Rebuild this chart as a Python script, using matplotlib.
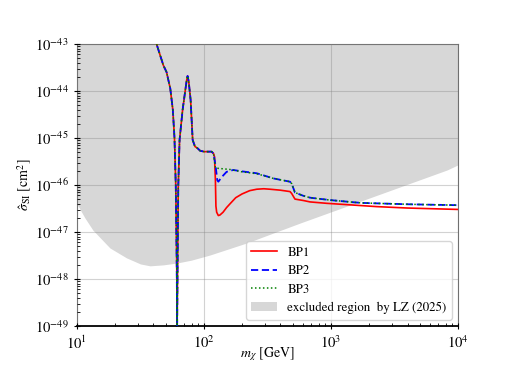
import numpy as np
import matplotlib
matplotlib.use("Agg")
import matplotlib.pyplot as plt
from matplotlib.patches import Patch
from matplotlib.ticker import LogLocator

plt.rcParams['font.family'] = ['serif']
plt.rcParams['font.serif'] = ['STIXGeneral', 'Liberation Serif', 'DejaVu Serif']
plt.rcParams['mathtext.fontset'] = 'stix'

# ---- data (log10 of mass [GeV], log10 of sigma [cm^2]) ----
lz_logm = [1.0, 1.063, 1.126, 1.26, 1.39, 1.50, 1.575, 1.68, 1.787, 1.90, 2.047,
           2.34, 2.756, 3.913, 4.0]
lz_logs = [-46.40, -46.70, -46.96, -47.34, -47.55, -47.68, -47.72, -47.70, -47.66,
           -47.60, -47.49, -47.23, -46.81, -45.68, -45.57]

common_logm = [1.58, 1.627, 1.68, 1.706, 1.735, 1.755, 1.768, 1.778, 1.785, 1.789,
               1.793, 1.798, 1.808, 1.832, 1.864, 1.871, 1.880, 1.895, 1.911, 1.929,
               1.95, 1.969, 2.0, 2.06, 2.075]
common_logs = [-42.6, -43.0, -43.45, -43.6, -43.95, -44.4, -45.0, -46.0, -47.5, -49.0,
               -47.5, -46.0, -45.04, -44.40, -43.77, -43.68, -43.80, -44.19, -45.04, -45.18,
               -45.22, -45.27, -45.29, -45.29, -45.33]

bp1_logm = [2.083, 2.090, 2.094, 2.100, 2.113, 2.125, 2.15, 2.178, 2.205, 2.25, 2.30,
            2.36, 2.415, 2.47, 2.52, 2.60, 2.677, 2.69, 2.716, 2.782, 2.835, 2.966,
            3.36, 3.6, 4.0]
bp1_logs = [-45.40, -45.9, -46.45, -46.58, -46.65, -46.64, -46.58, -46.48, -46.40, -46.27,
            -46.19, -46.12, -46.09, -46.08, -46.09, -46.11, -46.14, -46.18, -46.30, -46.33,
            -46.36, -46.39, -46.46, -46.49, -46.52]

bp2_logm = [2.083, 2.094, 2.105, 2.113, 2.14, 2.178, 2.23, 2.30, 2.415, 2.546, 2.677,
            2.69, 2.716, 2.782, 2.835, 2.99, 3.228, 3.6, 4.0]
bp2_logs = [-45.45, -45.65, -45.90, -45.93, -45.83, -45.72, -45.68, -45.71, -45.75, -45.86,
            -45.93, -45.97, -46.16, -46.23, -46.27, -46.32, -46.38, -46.41, -46.43]

bp3_logm = [2.083, 2.09, 2.13, 2.205, 2.30, 2.415, 2.546, 2.677, 2.69, 2.716, 2.782,
            2.835, 2.99, 3.228, 3.6, 4.0]
bp3_logs = [-45.50, -45.64, -45.65, -45.67, -45.72, -45.76, -45.86, -45.93, -45.97, -46.16,
            -46.23, -46.27, -46.32, -46.38, -46.41, -46.43]

x_ticks = [1e1, 1e2, 1e3, 1e4]
y_ticks = [1e-49, 1e-48, 1e-47, 1e-46, 1e-45, 1e-44, 1e-43]
y_top = 1e-43

def mk(logm_a, logs_a):
    return 10 ** np.array(logm_a, float), 10 ** np.array(logs_a, float)

fig = plt.figure(figsize=(5.23, 3.70), dpi=100)
ax = fig.add_axes([0.147, 0.119, 0.729, 0.762])

lzm, lzs = mk(lz_logm, lz_logs)
ax.fill_between(lzm, lzs, y_top, color='#d7d7d7', lw=0, zorder=1)

cm, cs = mk(common_logm, common_logs)
for lm, ls, col, sty, lw, lab in [
        (bp1_logm, bp1_logs, 'red', '-', 1.2, 'BP1'),
        (bp2_logm, bp2_logs, 'blue', (0, (4, 2)), 1.3, 'BP2'),
        (bp3_logm, bp3_logs, 'green', (0, (1, 1.6)), 1.1, 'BP3')]:
    m, s = mk(lm, ls)
    ax.plot(np.concatenate([cm, m]), np.concatenate([cs, s]), color=col,
            linestyle=sty, lw=lw, label=lab, zorder=3)

ax.set_xscale('log')
ax.set_yscale('log')
ax.set_xticks(x_ticks)
ax.set_yticks(y_ticks)
ax.xaxis.set_minor_locator(LogLocator(base=10, subs=np.arange(2, 10)))
ax.yaxis.set_minor_locator(LogLocator(base=10, subs=np.arange(2, 10), numticks=20))
ax.set_xlim(1e1, 1e4)
ax.set_ylim(1e-49, 1e-43)
ax.grid(True, which='major', color='gray', alpha=0.35, lw=0.8, zorder=2)
ax.set_axisbelow(False)

for sp in ['top', 'right', 'left']:
    ax.spines[sp].set_color('#707070')
ax.spines['bottom'].set_color('black')
ax.spines['bottom'].set_linewidth(1.3)
ax.tick_params(which='major', direction='inout', length=5, labelsize=10.5)
ax.tick_params(which='minor', direction='in', length=2.5)

ax.set_xlabel(r'$m_\chi$ [GeV]', fontsize=10)
ax.set_ylabel(r'$\hat{\sigma}_{\rm SI}$ [cm$^2$]', fontsize=10)
ax.xaxis.set_label_coords(0.5, -0.068)
ax.yaxis.set_label_coords(-0.112, 0.5)

handles, labels = ax.get_legend_handles_labels()
handles.append(Patch(facecolor='#d7d7d7', edgecolor='none'))
labels.append('excluded region  by LZ (2025)')
ax.legend(handles, labels, loc='lower right', fontsize=9.3)

fig.savefig('out.png', dpi=100)
